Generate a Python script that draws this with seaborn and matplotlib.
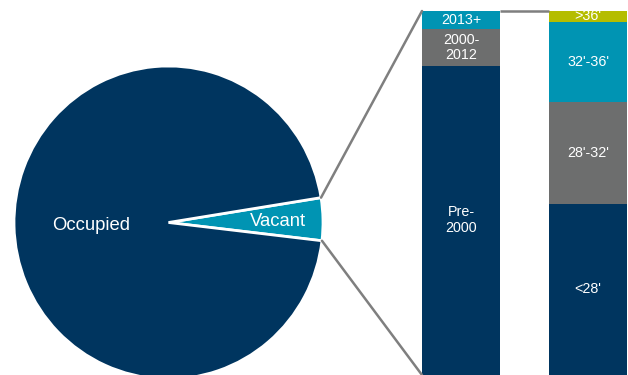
import numpy as np
import pandas as pd
import matplotlib
matplotlib.use("Agg")
import matplotlib.pyplot as plt
from matplotlib.patches import ConnectionPatch
import seaborn as sns

# ---- data ----
pie_labels = ["Vacant", "Occupied"]
pie_values = [4.4, 95.6]

year_labels = ["Pre-\n2000", "2000-\n2012", "2013+"]
year_values = [85, 10, 5]

height_labels = ["<28'", "28'-32'", "32'-36'", ">36'"]
height_values = [47, 28, 22, 3]

bar_names = ["Year built", "Clear height"]

# ---- style ----
sns.set_style("white")
plt.rcParams["font.family"] = ["Liberation Sans", "DejaVu Sans"]

NAVY = "#00355F"
GRAY = "#6D6E6E"
TEAL = "#0094B3"
OLIVE = "#B5BD00"
LINE = "#7F7F7F"
level_colors = [NAVY, GRAY, TEAL, OLIVE]
pie_colors = [TEAL, NAVY]

W, H = 628, 375
fig = plt.figure(figsize=(W / 100, H / 100), dpi=100)

# ---- pie ----
RX, RY = 154.5, 156.5
cx, cy = 168.5, 222.5
axp = fig.add_axes([(cx - RX) / W, 1 - (cy + RY) / H, 2 * RX / W, 2 * RY / H])
start = -6.7
wedges, _ = axp.pie(pie_values, colors=pie_colors, startangle=start,
                    counterclock=True, radius=1,
                    wedgeprops=dict(edgecolor="white", linewidth=2))
axp.set_aspect("auto")
axp.set_xlim(-1, 1)
axp.set_ylim(-1, 1)
axp.axis("off")

total = sum(pie_values)
ang = start
label_r = {"Vacant": 0.71, "Occupied": 0.5}
for lab, v in zip(pie_labels, pie_values):
    a0 = ang
    a1 = ang + v / total * 360
    mid = np.deg2rad((a0 + a1) / 2)
    r = label_r[lab]
    axp.text(r * np.cos(mid), r * np.sin(mid) - 0.01, lab, color="white",
             fontsize=13.3, ha="center", va="center")
    if lab == "Vacant":
        vac_a0, vac_a1 = np.deg2rad(a0), np.deg2rad(a1)
    ang = a1

# ---- stacked bars ----
bx0, bx1 = 422, 627
by0, by1 = 11, 375
axb = fig.add_axes([bx0 / W, 1 - by1 / H, (bx1 - bx0) / W, (by1 - by0) / H])
bw = 78 / 127

series = [year_values, height_values]
labels = [year_labels, height_labels]
nlev = max(len(s) for s in series)
cums = [np.cumsum(s) for s in series]
for lev in reversed(range(nlev)):
    vals = [c[lev] if lev < len(c) else 0 for c in cums]
    df = pd.DataFrame({"bar": bar_names, "cum": vals})
    sns.barplot(data=df, x="bar", y="cum", order=bar_names, color=level_colors[lev],
                saturation=1, width=bw, linewidth=0, ax=axb)

for i, (s, labs) in enumerate(zip(series, labels)):
    bottom = 0
    for v, lab in zip(s, labs):
        axb.text(i, bottom + v / 2, lab, color="white", fontsize=10.3,
                 ha="center", va="center", linespacing=1.15)
        bottom += v

axb.set_xlim(-bw / 2, 1 + bw / 2)
axb.set_ylim(0, 100)
axb.axis("off")

# ---- connector lines ----
for a, yb in [(vac_a1, 100), (vac_a0, 0)]:
    con = ConnectionPatch(xyA=(np.cos(a), np.sin(a)), coordsA=axp.transData,
                          xyB=(-bw / 2, yb), coordsB=axb.transData,
                          color=LINE, linewidth=1.8)
    fig.add_artist(con)
axb.plot([bw / 2, 1 - bw / 2], [100, 100], color=LINE, linewidth=1.8,
         clip_on=False, solid_capstyle="butt")

fig.savefig("out.png", dpi=100)
